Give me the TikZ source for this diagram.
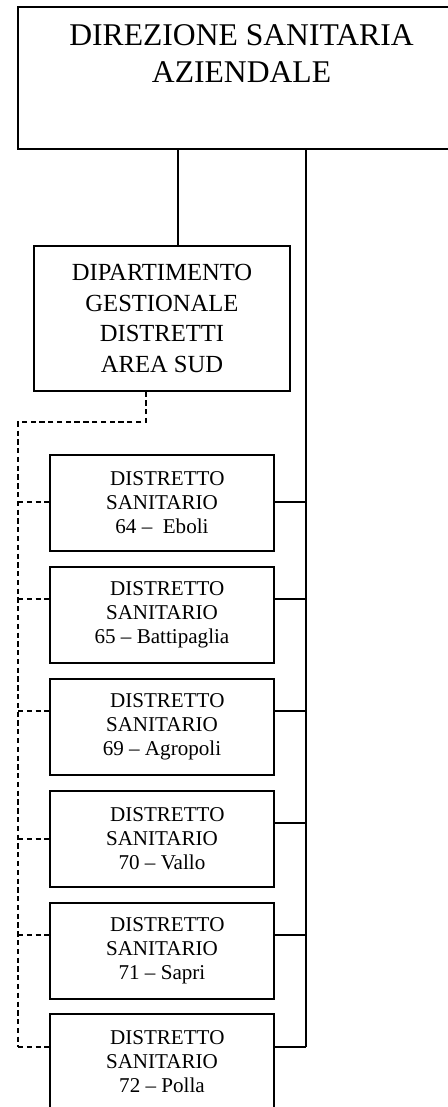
\documentclass[tikz,border=0pt]{standalone}
\usepackage{fontspec}
\setmainfont{Liberation Serif}
\begin{document}
\begin{tikzpicture}[x=0.02cm,y=-0.02cm,
    box/.style={draw,line width=0.7pt},
    distretto/.style={box,minimum width=4.48cm,minimum height=1.92cm,align=center,inner sep=0pt,font=\fontsize{12}{13.7}\selectfont},
    link/.style={line width=0.7pt},
    dlink/.style={line width=0.8pt,dash pattern=on 3pt off 2pt}]
    \useasboundingbox (0,0) rectangle (448,1107);
    \clip (0,0) rectangle (448,1107);
    \node[box,minimum width=8.94cm,minimum height=2.84cm] (dsa) at (241.5,78) {};
    \node[anchor=north,align=center,inner sep=0pt,yshift=-10pt,font=\fontsize{18}{21}\selectfont] (dsatxt) at (dsa.north) {DIREZIONE SANITARIA\\AZIENDALE};
    \node[box,minimum width=5.12cm,minimum height=2.9cm,align=center,inner sep=0pt,font=\fontsize{14}{17.5}\selectfont] (dgd) at (162,318.5) {DIPARTIMENTO\\GESTIONALE\\DISTRETTI\\AREA SUD};
    \node[distretto] (d64) at (162,503) {\hspace{6pt}DISTRETTO\\SANITARIO\\64 –\ \ Eboli};
    \node[distretto] (d65) at (162,615) {\hspace{6pt}DISTRETTO\\SANITARIO\\65 – Battipaglia};
    \node[distretto] (d69) at (162,727) {\hspace{6pt}DISTRETTO\\SANITARIO\\69 – Agropoli};
    \node[distretto] (d70) at (162,839) {\hspace{6pt}DISTRETTO\\SANITARIO\\70 – Vallo};
    \node[distretto] (d71) at (162,951) {\hspace{6pt}DISTRETTO\\SANITARIO\\71 – Sapri};
    \node[distretto] (d72) at (162,1062) {\hspace{6pt}DISTRETTO\\SANITARIO\\72 – Polla};
    \coordinate (tap) at (178,0);
    \coordinate (spine) at (306,0);
    \coordinate (r64) at (306,502);
    \coordinate (r65) at (306,599);
    \coordinate (r69) at (306,711);
    \coordinate (r70) at (306,823);
    \coordinate (r71) at (306,935);
    \coordinate (r72) at (306,1047);
    \coordinate (dk) at (146,422);
    \coordinate (dl) at (18,422);
    \coordinate (l64) at (18,502);
    \coordinate (l65) at (18,599);
    \coordinate (l69) at (18,711);
    \coordinate (l70) at (18,839);
    \coordinate (l71) at (18,935);
    \coordinate (l72) at (18,1047);
    \draw[link] (dsa.south -| tap) -- (dgd.north -| tap);
    \draw[link] (dsa.south -| spine) -- (r72);
    \draw[link] (d64.east |- r64) -- (r64);
    \draw[link] (d65.east |- r65) -- (r65);
    \draw[link] (d69.east |- r69) -- (r69);
    \draw[link] (d70.east |- r70) -- (r70);
    \draw[link] (d71.east |- r71) -- (r71);
    \draw[link] (d72.east |- r72) -- (r72);
    \draw[dlink] (dgd.south -| dk) -- (dk) -- (dl) -- (l72);
    \draw[dlink] (l64) -- (d64.west |- l64);
    \draw[dlink] (l65) -- (d65.west |- l65);
    \draw[dlink] (l69) -- (d69.west |- l69);
    \draw[dlink] (l70) -- (d70.west |- l70);
    \draw[dlink] (l71) -- (d71.west |- l71);
    \draw[dlink] (l72) -- (d72.west |- l72);
\end{tikzpicture}
\end{document}
